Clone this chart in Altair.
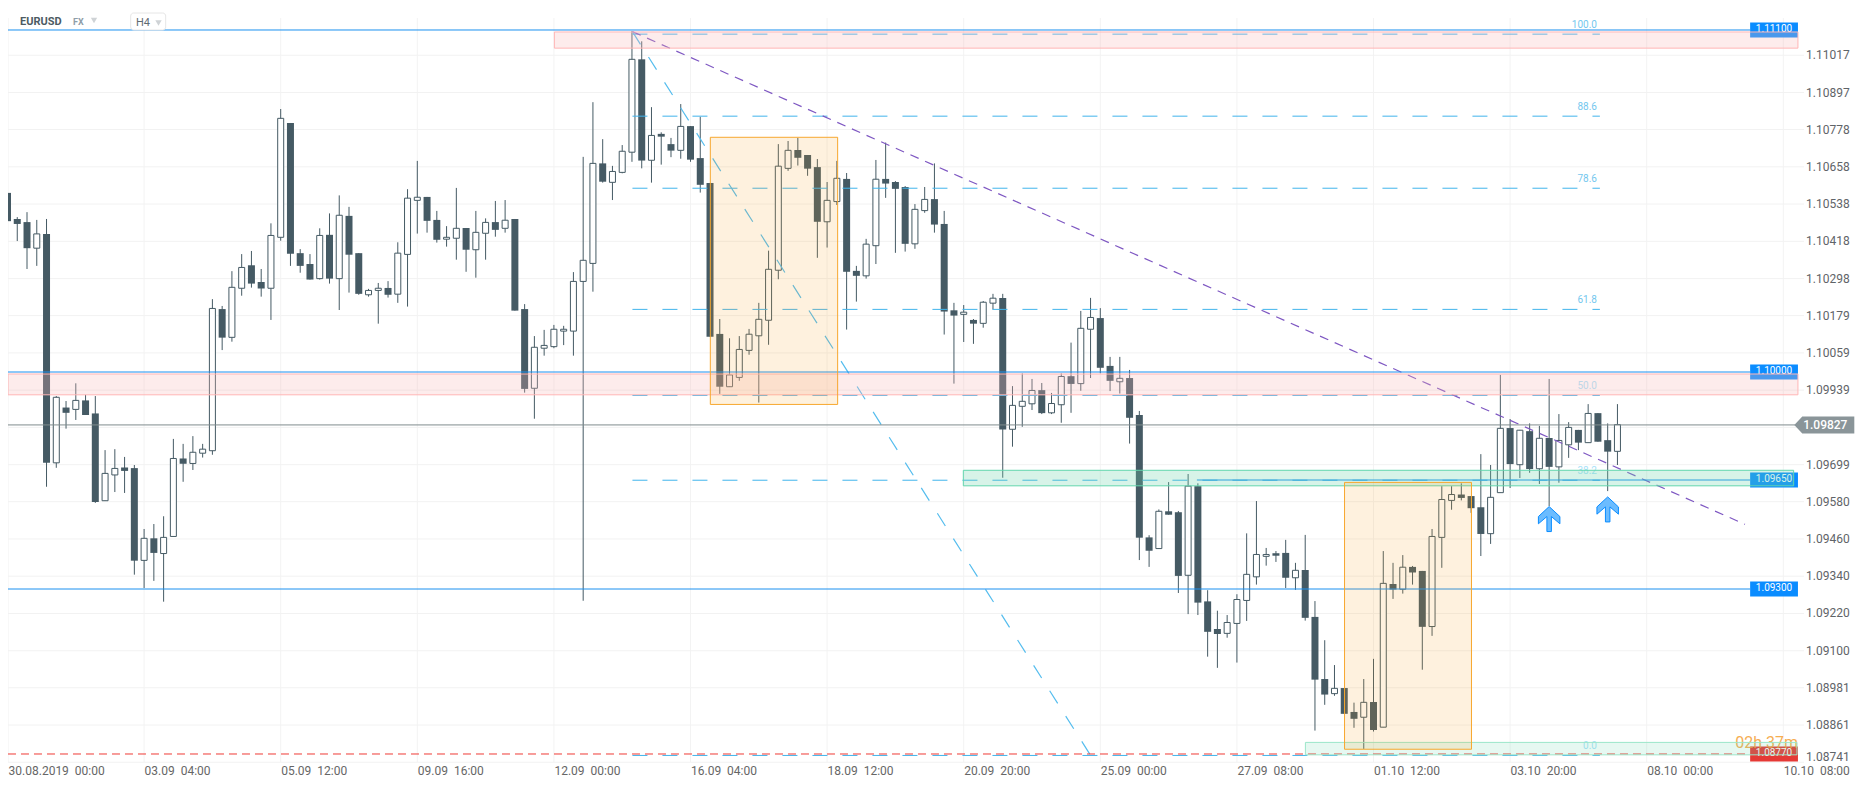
import altair as alt
import pandas as pd

# OHLC in points (1 point = 0.00001)
opens_pts = [
110574,110490,110480,110396,110442,109705,109883,109877,109906,109864,
109583,109666,109690,109688,109391,109462,109413,109468,109719,109703,
109736,109744,110200,110109,110267,110341,110287,110267,110431,110799,
110380,110345,110298,110439,110298,110500,110380,110246,110260,110268,
110248,110376,110550,110561,110487,110425,110428,110461,110391,110444,
110480,110460,110490,110200,109945,110074,110079,110129,110129,110289,
110347,110669,110608,110640,110705,111004,110679,110764,110731,110711,
110789,110686,110606,110120,109950,109980,110067,110114,110164,110325,
110653,110712,110696,110657,110481,110546,110619,110323,110307,110404,
110619,110609,110593,110410,110517,110554,110474,110196,110183,110165,
110154,110219,110236,109813,109887,109895,109939,109866,109892,109984,
109960,110135,110171,110017,109966,109978,109859,109465,109429,109549,
109546,109343,109630,109259,109170,109156,109188,109262,109338,109404,
109414,109415,109335,109360,109209,109009,108962,108980,108903,108886,
108935,108854,109315,109298,109370,109357,109178,109465,109584,109603,
109598,109562,109477,109609,109817,109699,109807,109686,109785,109692,
109763,109811,109770,109865,109778,109742]
closes_pts = [
110483,110474,110396,110442,109705,109916,109866,109906,109859,109579,
109671,109687,109679,109390,109462,109415,109465,109719,109702,109739,
109749,110202,110108,110270,110334,110282,110266,110437,110814,110378,
110339,110295,110437,110298,110502,110375,110249,110260,110267,110246,
110380,110557,110560,110484,110423,110431,110460,110391,110447,110479,
110455,110486,110195,109943,110077,110083,110135,110135,110289,110357,
110669,110610,110643,110708,111004,110678,110759,110755,110710,110788,
110681,110600,110111,109950,109988,110070,110119,110167,110328,110660,
110711,110687,110652,110481,110550,110621,110320,110307,110409,110618,
110604,110587,110410,110521,110553,110472,110192,110179,110190,110153,
110222,110235,109812,109890,109903,109938,109865,109896,109983,109959,
110138,110173,110011,109969,109977,109850,109464,109422,109549,109538,
109341,109630,109255,109161,109154,109191,109265,109346,109410,109410,
109406,109335,109359,109206,109007,108959,108979,108897,108881,108934,
108845,109317,109297,109369,109352,109177,109468,109587,109603,109592,
109559,109476,109594,109816,109701,109810,109685,109784,109692,109777,
109819,109770,109864,109773,109741,109828]
highs_pts = [
110599,110496,110512,110487,110490,109920,109904,109961,109924,109920,
109746,109749,109724,109698,109492,109508,109533,109782,109766,109791,
109766,110232,110210,110322,110377,110387,110329,110476,110844,110799,
110393,110377,110460,110508,110566,110529,110380,110265,110284,110290,
110415,110586,110677,110561,110516,110467,110590,110461,110516,110492,
110548,110551,110490,110216,110113,110133,110149,110146,110319,110690,
110866,110747,110661,110728,111095,111062,110850,110769,110751,110860,
110789,110819,110606,110168,110106,110113,110136,110220,110388,110731,
110741,110751,110696,110683,110609,110677,110638,110339,110426,110680,
110736,110612,110596,110538,110593,110669,110516,110220,110213,110168,
110226,110249,110249,109952,109993,109975,109962,109930,109993,110092,
110194,110236,110203,110046,110046,110004,109872,109472,109555,109643,
109550,109669,109639,109295,109229,109215,109282,109478,109582,109431,
109421,109457,109383,109473,109260,109134,109054,108980,108933,109009,
109074,109421,109383,109408,109373,109357,109492,109630,109630,109639,
109598,109733,109698,109988,109846,109811,109832,109824,109975,109862,
109836,109811,109894,109865,109832,109894]
lows_pts = [
110477,110419,110329,110339,109628,109689,109815,109843,109859,109576,
109583,109611,109608,109345,109302,109325,109258,109468,109644,109682,
109722,109731,110068,110095,110243,110269,110240,110165,110420,110339,
110317,110295,110295,110282,110197,110253,110246,110240,110153,110237,
110220,110208,110443,110446,110414,110401,110359,110320,110301,110359,
110433,110446,110195,109931,109847,110050,110074,110084,110050,109261,
110256,110607,110551,110637,110674,110653,110607,110665,110689,110684,
110674,110575,110111,109927,109950,109969,110053,109899,110085,110296,
110645,110662,110629,110365,110398,110535,110134,110224,110298,110345,
110558,110381,110385,110394,110510,110446,110118,109960,110094,110088,
110140,110199,109657,109757,109821,109875,109862,109862,109834,109866,
109937,109978,109993,109936,109928,109767,109392,109370,109429,109538,
109286,109218,109215,109081,109045,109142,109062,109196,109313,109374,
109386,109302,109296,109197,108843,108926,108955,108897,108852,108784,
108840,108854,109267,109284,109313,109039,109148,109367,109554,109584,
109544,109405,109444,109609,109624,109656,109673,109637,109566,109641,
109721,109746,109770,109773,109614,109698]

y_ticks = [1.11017,1.10897,1.10778,1.10658,1.10538,1.10418,1.10298,1.10179,1.10059,1.09939,
           1.09819,1.09699,1.09580,1.09460,1.09340,1.09220,1.09100,1.08981,1.08861,1.08741]
x_labels = ["30.08.2019\u00a0\u00a000:00","03.09\u00a0\u00a004:00","05.09\u00a0\u00a012:00","09.09\u00a0\u00a016:00","12.09\u00a0\u00a000:00",
            "16.09\u00a0\u00a004:00","18.09\u00a0\u00a012:00","20.09\u00a0\u00a020:00","25.09\u00a0\u00a000:00","27.09\u00a0\u00a008:00",
            "01.10\u00a0\u00a012:00","03.10\u00a0\u00a020:00","08.10\u00a0\u00a000:00","10.10\u00a0\u00a008:00"]
x_ticks = [0.06, 14, 28, 42, 56, 70, 84, 98, 112, 126, 140, 154, 168, 182]

level_prices = [1.110984, 1.099974, 1.096497, 1.092988]
level_labels = ["1.11100", "1.10000", "1.09650", "1.09300"]
level_starts = [0.05, 0.05, 121.9, 0.05]
red_level = 1.087677
last_price = 1.09827

fib_levels = [1.11085, 1.10821, 1.10589, 1.10199, 1.09922, 1.09649, 1.08763]
fib_labels = ["100.0", "88.6", "78.6", "61.8", "50.0", "38.2", "0.0"]

LEFT, LEVEL_END, TAG_END, GRID_END = 0.05, 178.6, 183.5, 184.12

zones = pd.DataFrame({
    "x":  [56.05, 0.05, 97.96, 133.02],
    "x2": [183.5, 183.5, 183.06, 183.4],
    "y":  [1.11092, 1.09991, 1.09681, 1.08805],
    "y2": [1.11040, 1.09924, 1.09631, 1.08765],
    "kind": ["pink", "pink", "green", "pale"],
})
boxes = pd.DataFrame({
    "x": [72.03, 137.03], "x2": [85.08, 150.04],
    "y": [1.10753, 1.09642], "y2": [1.09893, 1.08783],
})

DARK = "#455a64"
xs = alt.Scale(domain=[0.0512, GRID_END], nice=False, zero=False, padding=0)
ys = alt.Scale(domain=[1.087387, 1.111692], nice=False, zero=False, padding=0)

def X(f="x"):
    return alt.X(f + ":Q", scale=xs, title=None)

def Y(f="y"):
    return alt.Y(f + ":Q", scale=ys, title=None)

c = pd.DataFrame({"n": range(len(opens_pts)), "o": opens_pts, "h": highs_pts, "l": lows_pts, "c": closes_pts})
for k in "ohlc":
    c[k] = c[k] / 100000
c["top"] = c[["o", "c"]].max(axis=1)
c["bot"] = c[["o", "c"]].min(axis=1)
down = c[c.c < c.o]
up = c[c.c >= c.o]

label_expr = "[" + ",".join("'%s'" % s for s in x_labels) + "][round(datum.value/14)]"
grid_top, grid_bot = 1.11137, y_ticks[-1]
gridx = pd.DataFrame({"x": x_ticks, "y": [grid_top] * len(x_ticks), "y2": [grid_bot] * len(x_ticks)})
axis_layer = alt.Chart(gridx).mark_rule(color="#f3f3f3", strokeWidth=1).encode(
    x=alt.X("x:Q", scale=xs, title=None, axis=alt.Axis(
        values=x_ticks, labelExpr=label_expr, grid=False, domain=False, ticks=False,
        labelAlign="left", labelFont="Roboto", labelFontSize=12, labelColor="#666666",
        labelPadding=2, labelOverlap=False, labelFlush=False, labelBound=False)),
    y=alt.Y("y:Q", scale=ys, title=None, axis=alt.Axis(
        orient="right", values=y_ticks, grid=False, labels=False, domain=False, ticks=False)),
    y2="y2:Q",
)

# horizontal grid and price-axis labels
ygrid = pd.DataFrame({"y": y_ticks, "x": [LEFT] * len(y_ticks), "x2": [GRID_END] * len(y_ticks), "tx": [184.33] * len(y_ticks)})
ygrid["label"] = ygrid.y.map(lambda v: "%.5f" % v)
grid_rules = alt.Chart(ygrid).mark_rule(color="#f2f2f2", strokeWidth=1).encode(x=X("x"), x2="x2:Q", y=Y("y"))
price_labels = alt.Chart(ygrid[(ygrid.y != 1.09819) & (ygrid.y != 1.08741)]).mark_text(
    align="left", baseline="middle", font="Roboto", fontSize=12, color="#5f6468").encode(x=X("tx"), y=Y("y"), text="label:N")
bottom_label = alt.Chart(ygrid[ygrid.y == 1.08741]).mark_text(
    align="left", baseline="middle", dy=-5, font="Roboto", fontSize=12, color="#5f6468").encode(x=X("tx"), y=Y("y"), text="label:N")

wicks = alt.Chart(c).mark_rule(color=DARK, strokeWidth=1).encode(x=X("n"), y=Y("l"), y2="h:Q")
bodies_dn = alt.Chart(down).mark_bar(size=7, color=DARK).encode(x=X("n"), y=Y("top"), y2="bot:Q")
bodies_up = alt.Chart(up).mark_bar(size=6, fill="white", stroke=DARK, strokeWidth=1).encode(x=X("n"), y=Y("top"), y2="bot:Q")

fib_df = pd.DataFrame({"y": fib_levels, "label": fib_labels, "x": [64.05] * 7, "x2": [163.2] * 7, "tx": [162.9] * 7})
fib_lines = alt.Chart(fib_df).mark_rule(color="#40b4ec", strokeWidth=1, strokeDash=[15, 15]).encode(x=X("x"), x2="x2:Q", y=Y("y"))
fib_bright = alt.Chart(fib_df.iloc[:4]).mark_text(align="right", baseline="middle", dy=-9, font="Roboto", fontSize=10, color="#74c7ee").encode(x=X("tx"), y=Y("y"), text="label:N")
fib_pale = alt.Chart(fib_df.iloc[4:]).mark_text(align="right", baseline="middle", dy=-9, font="Roboto", fontSize=10, color="#a8e2f8").encode(x=X("tx"), y=Y("y"), text="label:N")

diag = pd.DataFrame({"x": [64.05, 110.95], "y": [1.11093, 1.08766]})
diag_line = alt.Chart(diag).mark_line(color="#55bdee", strokeWidth=1.2, strokeDash=[15, 15]).encode(x=X("x"), y=Y("y"))
trend = pd.DataFrame({"x": [64.05, 178.07], "y": [1.11093, 1.09507]})
trend_line = alt.Chart(trend).mark_line(color="#7e57c2", strokeWidth=1.2, strokeDash=[9, 7]).encode(x=X("x"), y=Y("y"))

lvl = pd.DataFrame({"y": level_prices, "label": level_labels, "x": level_starts, "x2": [LEVEL_END] * 4, "tag": [TAG_END] * 4, "tx": [181.05] * 4})
level_lines = alt.Chart(lvl).mark_rule(color="#1a90f0", strokeWidth=1).encode(x=X("x"), x2="x2:Q", y=Y("y"))
red_df = pd.DataFrame({"y": [red_level], "label": ["1.08770"], "x": [LEFT], "x2": [LEVEL_END], "tag": [TAG_END], "tx": [181.05]})
red_line = alt.Chart(red_df).mark_rule(color="#ef3b36", strokeWidth=1, strokeDash=[8, 5]).encode(x=X("x"), x2="x2:Q", y=Y("y"))
last_df = pd.DataFrame({"y": [last_price], "x": [LEFT], "x2": [183.2], "tx": [186.2], "label": ["1.09827"]})
last_line = alt.Chart(last_df).mark_rule(color="#7f8b8d", strokeWidth=1).encode(x=X("x"), x2="x2:Q", y=Y("y"))

tags = alt.Chart(lvl).mark_bar(size=15, color="#0a8cff", orient="horizontal").encode(x=X("x2"), x2="tag:Q", y=Y("y"))
tag_red = alt.Chart(red_df).mark_bar(size=15, color="#e53935", orient="horizontal").encode(x=X("x2"), x2="tag:Q", y=Y("y"))
tag_text = alt.Chart(pd.concat([lvl, red_df])).mark_text(font="Roboto", fontSize=10, color="white", dy=-1, baseline="middle").encode(x=X("tx"), y=Y("y"), text="label:N")

countdown = alt.Chart(pd.DataFrame({"x": [183.5], "y": [1.08803], "t": ["02h 37m"]})).mark_text(
    align="right", baseline="middle", font="Roboto", fontSize=16, color="#f5a033", opacity=0.85).encode(x=X("x"), y=Y("y"), text="t:N")

rect_enc = dict(x=X("x"), x2="x2:Q", y=Y("y"), y2="y2:Q")
pink_zones = alt.Chart(zones[zones.kind == "pink"]).mark_rect(fill="#f8baba", fillOpacity=0.27, stroke="#ffb6b6", strokeWidth=1).encode(**rect_enc)
green_zone = alt.Chart(zones[zones.kind == "green"]).mark_rect(fill="#6bd3aa", fillOpacity=0.27, stroke="#62d6ad", strokeWidth=1).encode(**rect_enc)
pale_zone = alt.Chart(zones[zones.kind == "pale"]).mark_rect(fill="#6bd3aa", fillOpacity=0.17, stroke="#9be6c9", strokeWidth=1).encode(**rect_enc)
order_boxes = alt.Chart(boxes).mark_rect(fill="#f59e23", fillOpacity=0.15, stroke="#f7a72e", strokeWidth=1).encode(**rect_enc)

ARROW = "M0,-0.5 L0.43,-0.1 L0.43,0.19 L0.09,-0.1 L0.09,0.5 L-0.09,0.5 L-0.09,-0.1 L-0.43,0.19 L-0.43,-0.1 Z"
arrows_df = pd.DataFrame({"x": [158.0, 164.0], "y": [1.09524, 1.09555]})
arrows = alt.Chart(arrows_df).mark_point(shape=ARROW, size=2500, filled=True, fill="#6bbcff", stroke="#0a8cff", strokeWidth=1, opacity=1).encode(x=X("x"), y=Y("y"))

PRICE_TAG = "M-0.5,0 L-0.367,-0.142 L0.5,-0.142 L0.5,0.142 L-0.367,0.142 Z"
last_tag = alt.Chart(last_df).mark_point(shape=PRICE_TAG, size=14400, filled=True, fill="#8a9599", strokeWidth=0, opacity=1).encode(x=X("tx"), y=Y("y"))
last_text = alt.Chart(last_df).mark_text(font="Roboto", fontSize=12, fontWeight=500, color="white", baseline="middle", dx=1).encode(x=X("tx"), y=Y("y"), text="label:N")

one = pd.DataFrame({"a": [0]})
def hdr(text, x, y, **kw):
    return alt.Chart(one).mark_text(text=text, align="left", baseline="middle", font="Roboto", **kw).encode(x=alt.value(x), y=alt.value(y))
def tri(x, y):
    return alt.Chart(one).mark_point(shape="triangle-down", size=40, filled=True, color="#cfd3d6", opacity=1).encode(x=alt.value(x), y=alt.value(y))

h4_box = alt.Chart(one).mark_rect(fill="white", stroke="#e6e6e6", strokeWidth=1, cornerRadius=3).encode(
    x=alt.value(122.7), x2=alt.value(157.7), y=alt.value(5), y2=alt.value(22))

chart = alt.layer(
    axis_layer, grid_rules, price_labels, bottom_label,
    wicks, bodies_dn, bodies_up,
    fib_lines, diag_line, trend_line,
    level_lines, red_line, last_line, tags, tag_red, tag_text,
    fib_bright, fib_pale, countdown,
    pink_zones, green_zone, pale_zone, order_boxes,
    arrows, last_tag, last_text,
    hdr("EURUSD", 12, 14, fontSize=11, fontWeight="bold", color="#4d5b63"),
    hdr("FX", 65, 14, fontSize=9, fontWeight="bold", color="#8f9ea8"),
    tri(86, 12.5),
    h4_box,
    hdr("H4", 128, 14.5, fontSize=11, color="#5f6b72"),
    tri(150.5, 15),
).properties(
    width=1796, height=755, autosize="none",
    padding={"left": 0, "top": 0, "right": 54, "bottom": 18},
).configure_view(stroke=None)

chart.save("out.html", embed_options={"renderer": "svg", "actions": False})
